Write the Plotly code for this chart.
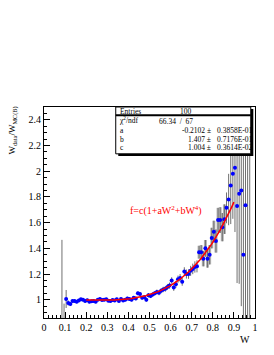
import numpy as np
import plotly.graph_objects as go

# bin centres (W) and ratio values
w_vals = [0.085, 0.095,
          0.105, 0.115, 0.125, 0.135, 0.145, 0.155, 0.165, 0.175, 0.185, 0.195,
          0.205, 0.215, 0.225, 0.235, 0.245, 0.255, 0.265, 0.275, 0.285, 0.295,
          0.305, 0.315, 0.325, 0.335, 0.345, 0.355, 0.365, 0.375, 0.385, 0.395,
          0.405, 0.415, 0.425, 0.435, 0.445, 0.455, 0.465, 0.475, 0.485, 0.495,
          0.505, 0.515, 0.525, 0.535, 0.545, 0.555, 0.565, 0.575, 0.585, 0.595,
          0.605, 0.615, 0.625, 0.635, 0.645, 0.655, 0.665, 0.675, 0.685, 0.695,
          0.705, 0.715, 0.725, 0.735, 0.745, 0.755, 0.765, 0.775, 0.785, 0.795,
          0.805, 0.815, 0.825, 0.835, 0.845, 0.855, 0.865, 0.875, 0.885, 0.895,
          0.905, 0.915, 0.925, 0.935, 0.945, 0.955, 0.965, 0.975]
ratio = [0.60, 0.80,
         1.006, 0.975, 0.966, 0.990, 0.990, 0.985, 0.995, 1.003, 1.000, 0.990,
         0.997, 0.985, 0.988, 0.990, 0.985, 1.000, 1.005, 0.998, 1.000, 1.003,
         0.993, 0.990, 0.998, 0.994, 1.004, 0.990, 1.006, 0.995, 1.000, 1.010,
         1.005, 1.000, 1.015, 1.010, 1.050, 1.045, 1.015, 1.020, 1.000, 1.035,
         1.030, 1.040, 1.050, 1.060, 1.055, 1.070, 1.080, 1.085, 1.100, 1.110,
         1.150, 1.095, 1.120, 1.160, 1.170, 1.140, 1.220, 1.200, 1.200, 1.225,
         1.240, 1.255, 1.260, 1.370, 1.370, 1.320, 1.400, 1.320, 1.350, 1.480,
         1.530, 1.457, 1.620, 1.620, 1.565, 1.627, 1.715, 1.780, 1.889, 1.980,
         2.027, 1.730, 1.824, 1.850, 1.350, 1.735, 2.600, 2.800]
ratio_err = [0.866, 0.17,
             0.070, 0.020, 0.015, 0.012, 0.012, 0.012, 0.012, 0.012, 0.012, 0.012,
             0.012, 0.012, 0.012, 0.012, 0.012, 0.012, 0.012, 0.012, 0.012, 0.012,
             0.012, 0.012, 0.012, 0.012, 0.012, 0.012, 0.012, 0.012, 0.013, 0.013,
             0.013, 0.013, 0.014, 0.014, 0.015, 0.015, 0.015, 0.016, 0.016, 0.017,
             0.017, 0.018, 0.018, 0.019, 0.020, 0.020, 0.021, 0.022, 0.023, 0.024,
             0.025, 0.026, 0.027, 0.028, 0.030, 0.031, 0.033, 0.035, 0.037, 0.039,
             0.041, 0.044, 0.047, 0.050, 0.055, 0.060, 0.065, 0.070, 0.075, 0.080,
             0.085, 0.090, 0.095, 0.100, 0.110, 0.115, 0.120, 0.200, 0.300, 0.350,
             0.500, 0.600, 0.700, 0.900, 1.000, 1.200, 1.800, 2.000]

# fit parameters
fit_a, fit_b, fit_c = -0.2102, 1.407, 1.004
fit_range = [0.2, 0.9]
entries = 100
chi2, ndf = 66.34, 67
err_a, err_b, err_c = "0.3858E-01", "0.7176E-01", "0.3614E-02"

x_ticks = [0, 0.1, 0.2, 0.3, 0.4, 0.5, 0.6, 0.7, 0.8, 0.9, 1]
y_ticks = [1, 1.2, 1.4, 1.6, 1.8, 2, 2.2, 2.4]

serif = "Liberation Serif, Times New Roman, serif"

w_arr = np.array(w_vals)
r_arr = np.array(ratio)
e_arr = np.array(ratio_err)
band = (w_arr > 0.73) & (w_arr < 0.86)

fig = go.Figure()

# thick light error bars in the band region
fig.add_trace(go.Scatter(
    x=w_arr[band], y=r_arr[band], mode="markers",
    marker=dict(size=1, color="rgba(0,0,0,0)"),
    error_y=dict(type="data", array=e_arr[band], width=0, thickness=3, color="#b4b4b4"),
    showlegend=False, hoverinfo="skip"))

fig.add_trace(go.Scatter(
    x=w_arr, y=r_arr, mode="markers",
    marker=dict(size=4, color="#0000ff", symbol="circle"),
    error_y=dict(type="data", array=e_arr, width=0, thickness=1, color="#707070"),
    showlegend=False))

wf = np.linspace(fit_range[0], fit_range[1], 200)
ff = fit_c * (1 + fit_a * wf**2 + fit_b * wf**4)
fig.add_trace(go.Scatter(x=wf, y=ff, mode="lines",
                         line=dict(color="#ff0000", width=1.5),
                         showlegend=False, hoverinfo="skip"))

axis_common = dict(showgrid=False, zeroline=False, showline=True, linecolor="black",
                   linewidth=1, mirror=True, ticks="inside", tickcolor="black",
                   tickfont=dict(family=serif, size=10, color="black"))

fig.update_xaxes(range=[0, 1], tickvals=x_ticks, ticklen=6,
                 minor=dict(dtick=0.02, ticks="inside", ticklen=3, tickcolor="black"),
                 **axis_common)
fig.update_yaxes(range=[0.858, 2.5], tickvals=y_ticks, ticklen=6,
                 minor=dict(dtick=0.05, ticks="inside", ticklen=3, tickcolor="black"),
                 **axis_common)

# stats box
bx0, bx1, by0, by1 = 0.34, 0.98, 0.778, 1.0
shapes = [
    dict(type="rect", xref="paper", yref="paper", x0=bx0 + 0.012, x1=bx1 + 0.012,
         y0=by0 - 0.010, y1=by1 - 0.010, line=dict(width=0), fillcolor="black", layer="above"),
    dict(type="rect", xref="paper", yref="paper", x0=bx0, x1=bx1, y0=by0, y1=by1,
         line=dict(color="black", width=1), fillcolor="white", layer="above"),
    dict(type="line", xref="paper", yref="paper", x0=bx0, x1=bx1, y0=0.961, y1=0.961,
         line=dict(color="black", width=2), layer="above"),
]

ann = []
sf = dict(family=serif, size=7.5, color="black")
rows = [("Entries", 0.981), ("χ<sup>2</sup>/ndf", 0.937), ("a", 0.888), ("b", 0.848), ("c", 0.808)]
for label, yy in rows:
    ann.append(dict(x=bx0 + 0.012, y=yy, xref="paper", yref="paper", text=label,
                    showarrow=False, xanchor="left", yanchor="middle", font=sf))
ann.append(dict(x=0.672, y=0.981, xref="paper", yref="paper", text=str(entries),
                showarrow=False, xanchor="center", yanchor="middle", font=sf))
ann.append(dict(x=0.535, y=0.931, xref="paper", yref="paper",
                text=f"{chi2}  /  {ndf}", showarrow=False, xanchor="left", yanchor="middle", font=sf))
for val, err, yy in [(fit_a, err_a, 0.888), (fit_b, err_b, 0.848), (fit_c, err_c, 0.808)]:
    ann.append(dict(x=0.80, y=yy, xref="paper", yref="paper", text=f"{val} ±",
                    showarrow=False, xanchor="right", yanchor="middle", font=sf))
    ann.append(dict(x=0.81, y=yy, xref="paper", yref="paper", text=err,
                    showarrow=False, xanchor="left", yanchor="middle", font=sf))

# fit formula
ann.append(dict(x=0.40, y=0.51, xref="paper", yref="paper",
                text="f=c(1+aW<sup>2</sup>+bW<sup>4</sup>)", showarrow=False,
                xanchor="left", yanchor="middle",
                font=dict(family=serif, size=10, color="#ff0000")))
# axis titles
ann.append(dict(x=0.985, y=-0.1, xref="paper", yref="paper", text="W", showarrow=False,
                xanchor="right", yanchor="middle", font=dict(family=serif, size=10, color="black")))
ann.append(dict(x=-0.145, y=0.89, xref="paper", yref="paper",
                text="W<sub>data</sub>/W<sub>MC(B)</sub>", showarrow=False, textangle=-90,
                xanchor="center", yanchor="middle", font=dict(family=serif, size=9, color="black")))

# page body has an 8px default margin, so the figure is 8px smaller and margins shifted
fig.update_layout(width=266, height=347, margin=dict(l=36, r=19, t=99, b=37),
                  font=dict(family=serif, size=10, color="black"),
                  paper_bgcolor="white", plot_bgcolor="white",
                  shapes=shapes, annotations=ann)

fig.write_html("out.html")
